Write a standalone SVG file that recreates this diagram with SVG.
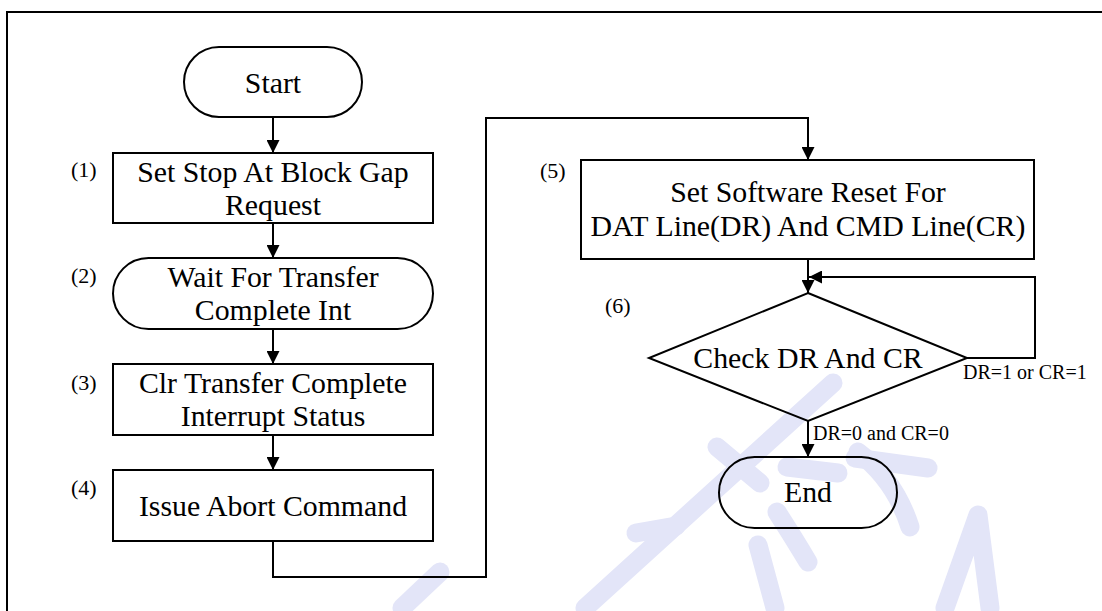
<svg xmlns="http://www.w3.org/2000/svg" width="1102" height="611" viewBox="0 0 1102 611">
<defs>
<style>
.sh{fill:none;stroke:#000;stroke-width:2}
.ln{fill:none;stroke:#000;stroke-width:2}
.t{font-family:"Liberation Serif","Times New Roman",serif;font-size:29.8px;fill:#000;text-anchor:middle}
.n{font-family:"Liberation Serif","Times New Roman",serif;font-size:22px;fill:#000}
.s{font-family:"Liberation Serif","Times New Roman",serif;font-size:20px;fill:#000}
.wm{fill:none;stroke:#e3e5f8;stroke-width:19;stroke-linecap:round;stroke-linejoin:round}
</style>
<marker id="ah" markerWidth="13" markerHeight="13" refX="13" refY="6.5" orient="auto" markerUnits="userSpaceOnUse">
<path d="M0,0 L13,6.5 L0,13 Z" fill="#000"/>
</marker>
</defs>
<rect width="1102" height="611" fill="#fff"/>
<g id="watermark">
<path class="wm" d="M585,608 L833,383"/>
<path class="wm" d="M636,533 L676,526"/>
<path class="wm" d="M717,447 L760,483"/>
<path class="wm" d="M855,458 L928,468"/>
<path class="wm" d="M787,467 L838,473"/>
<path class="wm" d="M777,512 Q795,540 808,562"/>
<path class="wm" d="M758,545 L775,608"/>
<path class="wm" d="M858,452 Q895,480 910,527"/>
<path class="wm" d="M945,608 L978,515 L990,608"/>
<path class="wm" d="M402,608 L440,572"/>
</g>
<g id="frame">
<path class="ln" d="M7,611 V12 H1102"/>
</g>
<g id="connectors">
<path class="ln" d="M273,117 V153" marker-end="url(#ah)"/>
<path class="ln" d="M273,223 V258" marker-end="url(#ah)"/>
<path class="ln" d="M273,329 V364" marker-end="url(#ah)"/>
<path class="ln" d="M273,435 V470" marker-end="url(#ah)"/>
<path class="ln" d="M273,541 V577 H486 V118 H808 V160" marker-end="url(#ah)"/>
<path class="ln" d="M808,259 V293" marker-end="url(#ah)"/>
<path class="ln" d="M967,358 H1035 V277 H809" marker-end="url(#ah)"/>
<path class="ln" d="M808,421 V457" marker-end="url(#ah)"/>
<text class="s" x="963" y="379">DR=1 or CR=1</text>
<text class="s" x="813" y="440">DR=0 and CR=0</text>
</g>
<g id="start">
<rect class="sh" x="184" y="47" width="178" height="70" rx="35" ry="35"/>
<text class="t" x="273" y="93">Start</text>
</g>
<g id="step1">
<rect class="sh" x="113" y="153" width="320" height="70"/>
<text class="n" x="71" y="177">(1)</text>
<text class="t" x="273" y="182">Set Stop At Block Gap</text>
<text class="t" x="273" y="215">Request</text>
</g>
<g id="step2">
<rect class="sh" x="113" y="258" width="320" height="71" rx="35.5" ry="35.5"/>
<text class="n" x="71" y="283">(2)</text>
<text class="t" x="273" y="287">Wait For Transfer</text>
<text class="t" x="273" y="320">Complete Int</text>
</g>
<g id="step3">
<rect class="sh" x="113" y="364" width="320" height="71"/>
<text class="n" x="71" y="390">(3)</text>
<text class="t" x="273" y="393">Clr Transfer Complete</text>
<text class="t" x="273" y="426">Interrupt Status</text>
</g>
<g id="step4">
<rect class="sh" x="113" y="470" width="320" height="71"/>
<text class="n" x="71" y="495">(4)</text>
<text class="t" x="273" y="516">Issue Abort Command</text>
</g>
<g id="step5">
<rect class="sh" x="581" y="160" width="453" height="99"/>
<text class="n" x="540" y="178">(5)</text>
<text class="t" x="808" y="202">Set Software Reset For</text>
<text class="t" x="808" y="236">DAT Line(DR) And CMD Line(CR)</text>
</g>
<g id="step6">
<path class="sh" d="M808,293 L967,358 L808,421 L649,358 Z"/>
<text class="n" x="605" y="313">(6)</text>
<text class="t" x="808" y="368">Check DR And CR</text>
</g>
<g id="end">
<rect class="sh" x="719" y="457" width="178" height="71" rx="35.5" ry="35.5"/>
<text class="t" x="808" y="502">End</text>
</g>
</svg>
